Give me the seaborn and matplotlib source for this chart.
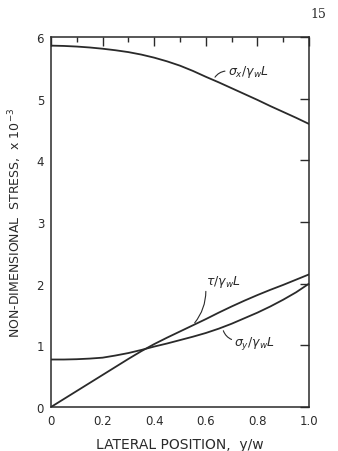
import matplotlib
matplotlib.use("Agg")
import matplotlib.pyplot as plt
import seaborn as sns
import pandas as pd
from matplotlib.ticker import MultipleLocator

# Data
x = [0.0, 0.05, 0.1, 0.15, 0.2, 0.25, 0.3, 0.35, 0.4, 0.45, 0.5,
     0.55, 0.6, 0.65, 0.7, 0.75, 0.8, 0.85, 0.9, 0.95, 1.0]
sigma_x = [5.86, 5.855, 5.845, 5.83, 5.81, 5.785, 5.755, 5.715, 5.665, 5.605, 5.535,
           5.45, 5.355, 5.265, 5.17, 5.075, 4.98, 4.88, 4.785, 4.69, 4.59]
tau = [0.0, 0.13, 0.26, 0.39, 0.52, 0.65, 0.78, 0.905, 1.02, 1.125, 1.225,
       1.325, 1.425, 1.53, 1.63, 1.725, 1.815, 1.90, 1.98, 2.065, 2.15]
sigma_y = [0.77, 0.77, 0.775, 0.785, 0.80, 0.835, 0.875, 0.925, 0.98, 1.03, 1.085,
           1.14, 1.20, 1.27, 1.35, 1.44, 1.53, 1.63, 1.74, 1.86, 2.0]

x_ticks = [0, 0.2, 0.4, 0.6, 0.8, 1.0]
x_tick_labels = ["0", "0.2", "0.4", "0.6", "0.8", "1.0"]
y_ticks = [0, 1, 2, 3, 4, 5, 6]
y_tick_labels = ["0", "1", "2", "3", "4", "5", "6"]

sns.set_style("white")
plt.rcParams["font.family"] = ["DejaVu Sans"]
plt.rcParams["mathtext.fontset"] = "dejavusans"

ink = "#2a2a2a"
fig = plt.figure(figsize=(3.38, 4.52), dpi=100)
ax = fig.add_axes([51 / 338, (452 - 408) / 452, 258 / 338, (408 - 38) / 452])

df = pd.DataFrame({"x": x, "sx": sigma_x, "tau": tau, "sy": sigma_y})
for col in ["sx", "tau", "sy"]:
    sns.lineplot(data=df, x="x", y=col, ax=ax, color=ink, lw=1.3)

ax.set_xlim(0, 1.0)
ax.set_ylim(0, 6)
ax.set_xticks(x_ticks)
ax.set_xticklabels(x_tick_labels)
ax.set_yticks(y_ticks)
ax.set_yticklabels(y_tick_labels)
ax.xaxis.set_minor_locator(MultipleLocator(0.1))

ax.tick_params(which="both", direction="in", top=True, right=True, color=ink,
               labelcolor=ink, labelsize=8.5)
ax.tick_params(which="major", length=6.5, width=1.0, pad=5)
ax.tick_params(which="minor", length=3.5, width=1.0)
for s in ax.spines.values():
    s.set_color(ink)
    s.set_linewidth(1.1)

ax.set_xlabel("LATERAL POSITION,  y/w", fontsize=10, color=ink, labelpad=7)
ax.set_ylabel(r"NON-DIMENSIONAL  STRESS,  x 10$^{-3}$", fontsize=9, color=ink, labelpad=9)

# Curve labels with small leader lines
ax.text(0.685, 5.45, r"$\sigma_x/\gamma_w L$", fontsize=9, color=ink, va="center", ha="left")
ax.annotate("", xy=(0.63, 5.31), xytext=(0.685, 5.45),
            arrowprops=dict(arrowstyle="-", color=ink, lw=0.8, connectionstyle="arc3,rad=0.3"))

ax.text(0.6, 2.05, r"$\tau/\gamma_w L$", fontsize=9, color=ink, va="center", ha="left")
ax.annotate("", xy=(0.55, 1.33), xytext=(0.6, 1.92),
            arrowprops=dict(arrowstyle="-", color=ink, lw=0.8, connectionstyle="arc3,rad=-0.2"))

ax.text(0.71, 1.05, r"$\sigma_y/\gamma_w L$", fontsize=9, color=ink, va="center", ha="left")
ax.annotate("", xy=(0.665, 1.28), xytext=(0.71, 1.08),
            arrowprops=dict(arrowstyle="-", color=ink, lw=0.8, connectionstyle="arc3,rad=-0.3"))

fig.text(318 / 338, 1 - 15 / 452, "15", fontsize=9, color=ink, ha="center", va="center",
         family="DejaVu Serif")

fig.savefig("out.png", dpi=100, facecolor="white")
